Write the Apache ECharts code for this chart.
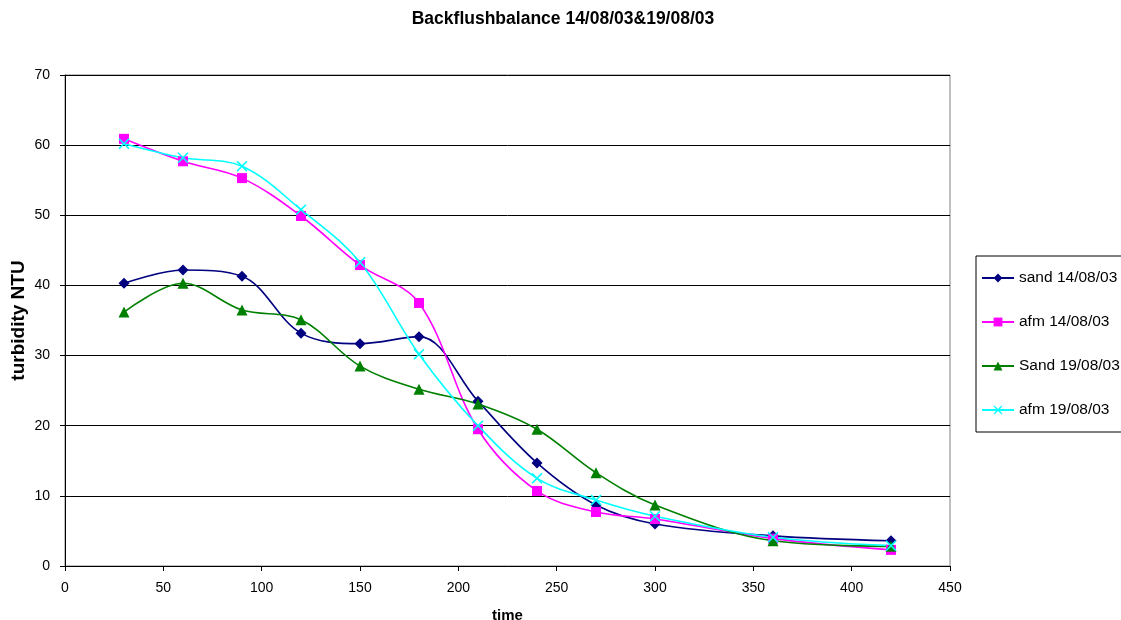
<!DOCTYPE html>
<html><head><meta charset="utf-8">
<script src="https://cdn.jsdelivr.net/npm/echarts@6/dist/echarts.min.js"></script>
<style>html,body{margin:0;padding:0;background:#fff;overflow:hidden}#c{width:1121px;height:620px}</style>
</head><body><div id="c"></div>
<script>
const times = [30, 60, 90, 120, 150, 180, 210, 240, 270, 300, 360, 420];
const sand1408 = [40.3, 42.2, 41.3, 33.2, 31.7, 32.7, 23.5, 14.7, 8.7, 6.0, 4.3, 3.6];
const afm1408 = [60.9, 57.7, 55.3, 49.9, 42.9, 37.5, 19.5, 10.7, 7.7, 6.7, 3.9, 2.3];
const sand1908 = [36.2, 40.3, 36.5, 35.1, 28.5, 25.2, 23.1, 19.5, 13.3, 8.7, 3.6, 2.8];
const afm1908 = [60.2, 58.2, 57.0, 50.8, 43.3, 30.2, 20.0, 12.5, 9.4, 7.1, 4.1, 2.9];
const xTicks = {min: 0, max: 450, interval: 50};
const yTicks = {min: 0, max: 70, interval: 10};

const crossPath = 'path://M0,1L1,0L5,4L9,0L10,1L6,5L10,9L9,10L5,6L1,10L0,9L4,5Z';
const font = 'Liberation Sans, Arial, sans-serif';
function pairs(ys){ return times.map((t,i)=>[t, ys[i]]); }
function mk(name, ys, color, symbol, size){
  return {name, type:'line', data:pairs(ys), smooth:0.35, symbol, symbolSize:size,
    showAllSymbol:true, lineStyle:{color, width:1.6}, itemStyle:{color},
    emphasis:{disabled:true}};
}
const chart = echarts.init(document.getElementById('c'));
chart.setOption({
  animation:false,
  backgroundColor:'#fff',
  title:{text:'Backflushbalance 14/08/03&19/08/03', left:558, textAlign:'center', top:5,
    textStyle:{fontFamily:font, fontSize:17.5, fontWeight:'bold', color:'#000'}},
  grid:{left:65, right:171, top:75, bottom:54, show:true, borderColor:'#808080', borderWidth:1,
    containLabel:false, outerBoundsMode:'none'},
  legend:{orient:'vertical', left:976, top:256,
    padding:[14,30,14,5], itemGap:28, itemWidth:32, itemHeight:11,
    borderColor:'#000', borderWidth:1,
    textStyle:{fontFamily:font, fontSize:15.5, lineHeight:16, color:'#000'},
    data:['sand 14/08/03','afm 14/08/03','Sand 19/08/03','afm 19/08/03']},
  xAxis:{type:'value', min:xTicks.min, max:xTicks.max, interval:xTicks.interval,
    name:'time', nameLocation:'middle', nameGap:42, nameMoveOverlap:false,
    nameTextStyle:{fontFamily:font, fontSize:15, fontWeight:'bold', color:'#000'},
    axisLine:{show:true, lineStyle:{color:'#000'}},
    axisTick:{show:true, length:5, lineStyle:{color:'#000'}},
    axisLabel:{fontFamily:font, fontSize:14, color:'#000', margin:15},
    splitLine:{show:false}},
  yAxis:{type:'value', min:yTicks.min, max:yTicks.max, interval:yTicks.interval,
    name:'turbidity NTU', nameLocation:'middle', nameGap:37, nameRotate:90, nameMoveOverlap:false,
    nameTextStyle:{fontFamily:font, fontSize:19, fontWeight:'bold', color:'#000'},
    axisLine:{show:true, lineStyle:{color:'#000'}},
    axisTick:{show:true, length:5, lineStyle:{color:'#000'}},
    axisLabel:{fontFamily:font, fontSize:14, color:'#000', margin:15},
    splitLine:{show:true, lineStyle:{color:'#000', width:1}}},
  series:[
    mk('sand 14/08/03', sand1408, '#000080', 'diamond', 11),
    mk('afm 14/08/03', afm1408, '#FF00FF', 'rect', 10),
    mk('Sand 19/08/03', sand1908, '#008000', 'triangle', 11),
    mk('afm 19/08/03', afm1908, '#00FFFF', crossPath, 11)
  ]
});
</script></body></html>
